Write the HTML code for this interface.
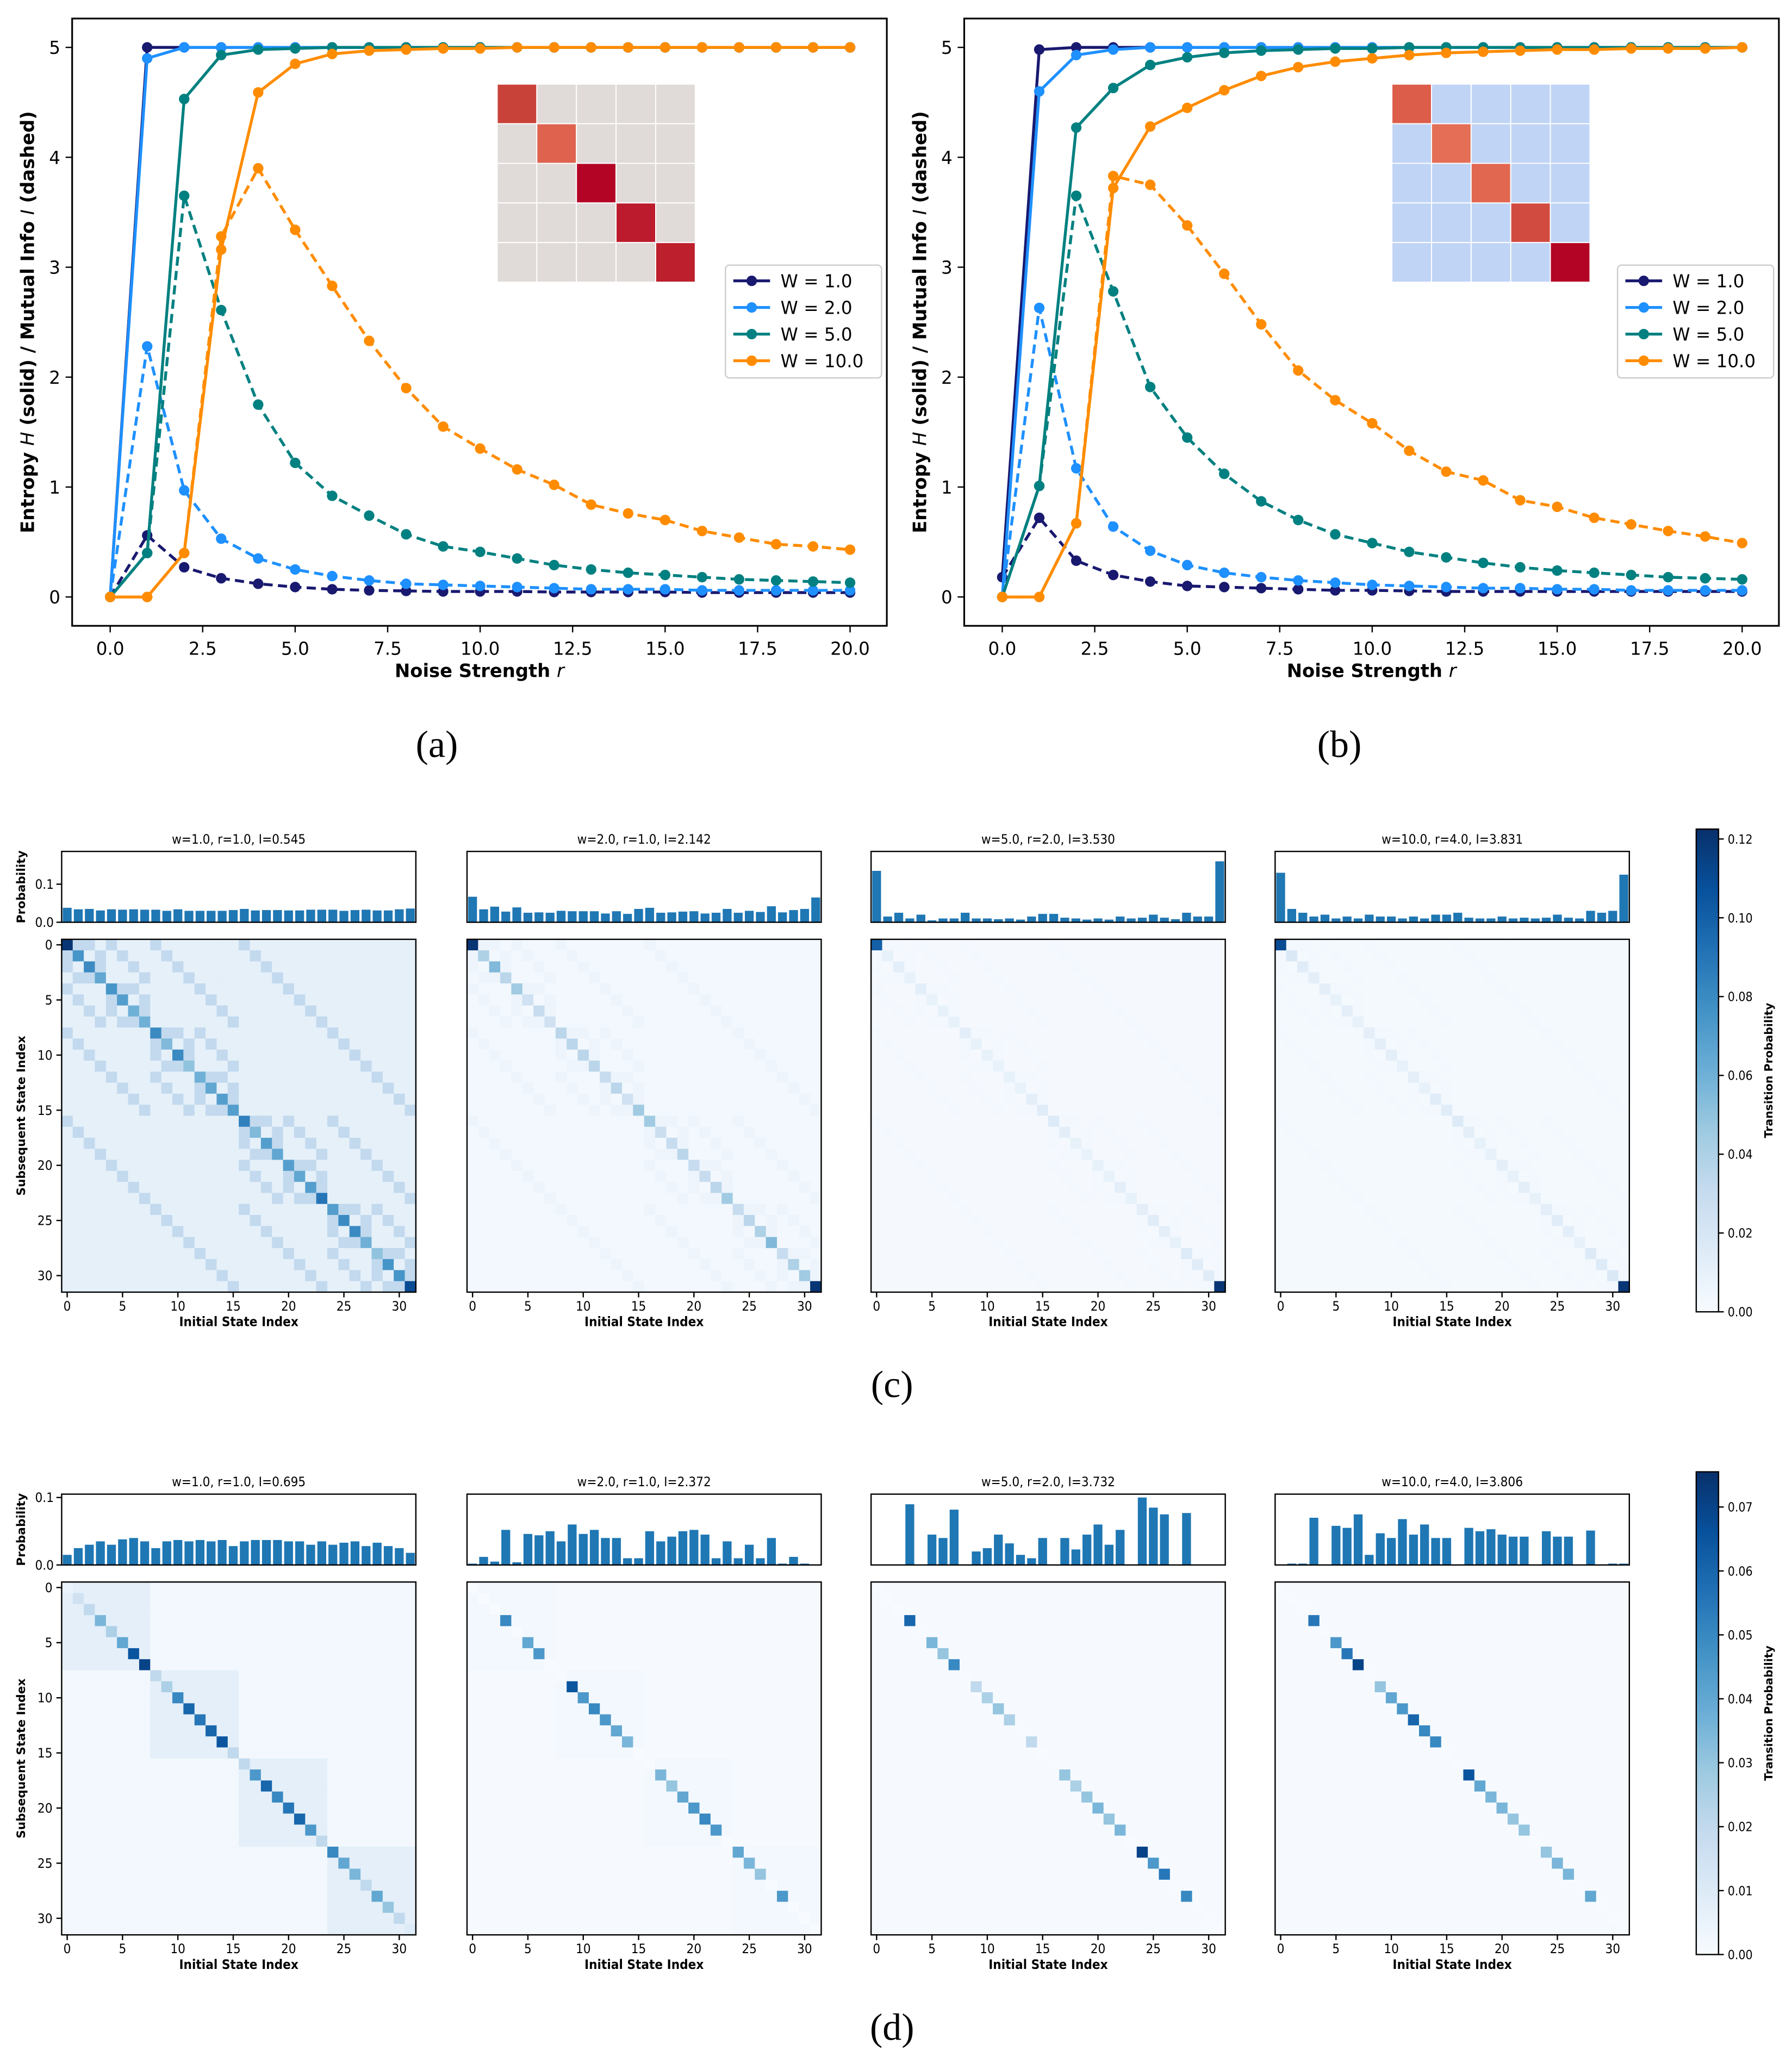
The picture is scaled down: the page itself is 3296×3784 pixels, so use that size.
<!DOCTYPE html>
<html><head><meta charset="utf-8">
<style>
html,body{margin:0;padding:0;background:#fff;}
svg{display:block;}
</style></head>
<body>
<svg id="fig" xmlns="http://www.w3.org/2000/svg" width="3296" height="3784" viewBox="0 0 1366 1568" font-family="DejaVu Sans, Liberation Sans, sans-serif">
<rect width="1366" height="1568" fill="#fff"/>
</svg>
<script>
// ---------- line chart data ----------
const rVals = [0,1,2,3,4,5,6,7,8,9,10,11,12,13,14,15,16,17,18,19,20];
const seriesNames = ["W = 1.0","W = 2.0","W = 5.0","W = 10.0"];
const seriesColors = ["#191970","#1e90ff","#008080","#ff8c00"];
const aH1 = [0,5,5,5,5,5,5,5,5,5,5,5,5,5,5,5,5,5,5,5,5];
const aI1 = [0,0.56,0.27,0.17,0.12,0.09,0.07,0.06,0.055,0.05,0.05,0.05,0.045,0.045,0.045,0.045,0.04,0.04,0.04,0.04,0.04];
const aH2 = [0,4.9,5,5,5,5,5,5,5,5,5,5,5,5,5,5,5,5,5,5,5];
const aI2 = [0,2.28,0.97,0.53,0.35,0.25,0.19,0.15,0.12,0.11,0.1,0.09,0.08,0.07,0.07,0.07,0.06,0.06,0.06,0.06,0.06];
const aH5 = [0,0.4,4.53,4.93,4.98,4.99,5,5,5,5,5,5,5,5,5,5,5,5,5,5,5];
const aI5 = [0,0.4,3.65,2.61,1.75,1.22,0.92,0.74,0.57,0.46,0.41,0.35,0.29,0.25,0.22,0.2,0.18,0.16,0.15,0.14,0.13];
const aH10 = [0,0,0.4,3.16,4.59,4.85,4.94,4.97,4.98,4.99,4.99,5,5,5,5,5,5,5,5,5,5];
const aI10 = [0,0,0.4,3.28,3.9,3.34,2.83,2.33,1.9,1.55,1.35,1.16,1.02,0.84,0.76,0.7,0.6,0.54,0.48,0.46,0.43];
const bH1 = [0.18,4.98,5,5,5,5,5,5,5,5,5,5,5,5,5,5,5,5,5,5,5];
const bI1 = [0.18,0.72,0.33,0.2,0.14,0.1,0.09,0.08,0.07,0.06,0.06,0.055,0.05,0.05,0.05,0.05,0.05,0.05,0.05,0.05,0.05];
const bH2 = [0,4.6,4.93,4.98,5,5,5,5,5,5,5,5,5,5,5,5,5,5,5,5,5];
const bI2 = [0,2.63,1.17,0.64,0.42,0.29,0.22,0.18,0.15,0.13,0.11,0.1,0.09,0.08,0.08,0.07,0.07,0.06,0.06,0.06,0.06];
const bH5 = [0,1.01,4.27,4.63,4.84,4.91,4.95,4.97,4.98,4.99,4.99,5,5,5,5,5,5,5,5,5,5];
const bI5 = [0,1.01,3.65,2.78,1.91,1.45,1.12,0.87,0.7,0.57,0.49,0.41,0.36,0.31,0.27,0.24,0.22,0.2,0.18,0.17,0.16];
const bH10 = [0,0,0.67,3.72,4.28,4.45,4.61,4.74,4.82,4.87,4.9,4.93,4.95,4.96,4.97,4.98,4.98,4.99,4.99,4.99,5];
const bI10 = [0,0,0.67,3.83,3.75,3.38,2.94,2.48,2.06,1.79,1.58,1.33,1.14,1.06,0.88,0.82,0.72,0.66,0.6,0.55,0.49];
const xTicks = [0,2.5,5,7.5,10,12.5,15,17.5,20];
const xTickLabels = ["0.0","2.5","5.0","7.5","10.0","12.5","15.0","17.5","20.0"];
const yTicks = [0,1,2,3,4,5];
const insetADiagColors = ["#c9423a","#de624e","#b40426","#bb1b2c","#bd1f2d"];
const insetAOffColor = "#e0dbd8";
const insetBDiagColors = ["#dc5d4a","#e46e56","#e16751","#d24b40","#b40426"];
const insetBOffColor = "#c0d4f5";

// ---------- heatmap data ----------
const stateIdx = Array.from({length:32},(_,i)=>i);
const stateTicks = [0,5,10,15,20,25,30];
const cTitles = ["w=1.0, r=1.0, I=0.545","w=2.0, r=1.0, I=2.142","w=5.0, r=2.0, I=3.530","w=10.0, r=4.0, I=3.831"];
const cBars1 = [0.038,0.034,0.035,0.031,0.034,0.033,0.034,0.033,0.033,0.03,0.034,0.03,0.03,0.03,0.03,0.032,0.035,0.031,0.032,0.032,0.031,0.031,0.033,0.033,0.033,0.03,0.032,0.033,0.031,0.031,0.034,0.036];
const cBars2 = [0.067,0.034,0.041,0.028,0.039,0.025,0.026,0.025,0.03,0.029,0.029,0.029,0.023,0.029,0.022,0.035,0.038,0.025,0.026,0.028,0.029,0.023,0.025,0.035,0.025,0.03,0.027,0.042,0.026,0.032,0.035,0.065];
const cBars3 = [0.135,0.015,0.025,0.01,0.02,0.005,0.01,0.01,0.025,0.01,0.01,0.008,0.01,0.007,0.015,0.022,0.022,0.012,0.01,0.007,0.01,0.007,0.015,0.01,0.012,0.02,0.012,0.008,0.025,0.015,0.015,0.16];
const cBars4 = [0.13,0.035,0.025,0.015,0.02,0.01,0.015,0.01,0.02,0.015,0.015,0.01,0.015,0.01,0.02,0.02,0.025,0.012,0.01,0.01,0.015,0.01,0.012,0.01,0.012,0.02,0.012,0.01,0.03,0.025,0.03,0.125];
const cDiag1 = [0.12,0.075,0.08,0.065,0.075,0.07,0.06,0.06,0.08,0.055,0.08,0.05,0.06,0.065,0.07,0.07,0.085,0.055,0.07,0.065,0.07,0.065,0.07,0.09,0.07,0.08,0.08,0.06,0.05,0.075,0.075,0.11];
const cDiag2 = [0.12,0.04,0.055,0.035,0.045,0.025,0.03,0.025,0.035,0.035,0.035,0.035,0.03,0.035,0.025,0.045,0.045,0.028,0.03,0.035,0.03,0.03,0.035,0.045,0.03,0.035,0.04,0.055,0.03,0.04,0.045,0.12];
const cDiag3 = [0.1,0.01,0.012,0.01,0.012,0.009,0.01,0.01,0.012,0.01,0.01,0.009,0.01,0.009,0.012,0.014,0.016,0.012,0.01,0.009,0.01,0.009,0.012,0.01,0.012,0.014,0.012,0.01,0.016,0.014,0.014,0.12];
const cDiag4 = [0.11,0.018,0.014,0.012,0.012,0.01,0.012,0.01,0.012,0.012,0.012,0.01,0.012,0.01,0.014,0.014,0.016,0.012,0.01,0.01,0.012,0.01,0.012,0.01,0.012,0.014,0.012,0.01,0.016,0.016,0.018,0.12];
const cOff = [0.011,0.003,0.0015,0.002];
const cBlock = [0.02,0.004,0.0015,0.002];
const dTitles = ["w=1.0, r=1.0, I=0.695","w=2.0, r=1.0, I=2.372","w=5.0, r=2.0, I=3.732","w=10.0, r=4.0, I=3.806"];
const dBars1 = [0.015,0.025,0.03,0.035,0.03,0.038,0.04,0.035,0.025,0.035,0.037,0.035,0.037,0.035,0.037,0.028,0.035,0.037,0.037,0.037,0.035,0.035,0.03,0.035,0.03,0.033,0.035,0.028,0.033,0.028,0.025,0.018];
const dBars2 = [0.002,0.012,0.005,0.052,0.004,0.046,0.044,0.05,0.035,0.06,0.046,0.052,0.04,0.04,0.01,0.01,0.05,0.035,0.042,0.05,0.052,0.045,0.01,0.035,0.01,0.03,0.01,0.04,0.002,0.012,0.002,0];
const dBars3 = [0,0,0,0.09,0,0.045,0.04,0.082,0,0.02,0.025,0.045,0.032,0.015,0.01,0.04,0,0.04,0.023,0.045,0.06,0.03,0.052,0,0.1,0.085,0.075,0,0.077,0,0,0];
const dBars4 = [0,0.002,0.002,0.07,0,0.058,0.055,0.075,0.015,0.047,0.04,0.068,0.045,0.06,0.04,0.04,0,0.055,0.05,0.053,0.045,0.042,0.042,0,0.05,0.042,0.042,0,0.051,0,0.002,0.002];
const dDiag1 = [0.005,0.015,0.02,0.035,0.025,0.04,0.065,0.07,0.02,0.025,0.05,0.06,0.055,0.06,0.065,0.02,0.02,0.045,0.06,0.05,0.055,0.06,0.045,0.02,0.05,0.04,0.035,0.02,0.04,0.03,0.02,0.01];
const dDiag2 = [0,0,0,0.05,0,0.04,0.045,0.0,0,0.065,0.045,0.05,0.045,0.04,0.035,0,0,0.035,0.03,0.04,0.045,0.05,0.045,0,0.04,0.035,0.03,0,0.045,0,0,0];
const dDiag3 = [0,0,0,0.06,0,0.035,0.03,0.05,0,0.02,0.025,0.03,0.025,0,0.02,0,0,0.03,0.025,0.03,0.035,0.03,0.035,0,0.07,0.045,0.055,0,0.05,0,0,0];
const dDiag4 = [0,0,0,0.055,0,0.045,0.055,0.07,0,0.03,0.04,0.045,0.06,0.05,0.05,0,0,0.065,0.04,0.035,0.035,0.03,0.03,0,0.03,0.035,0.035,0,0.04,0,0,0];
const dOff = [0.002,0.0005,0.0003,0.0003];
const dBlock = [0.007,0.0015,0.0005,0.0005];
const cBarTicks = [0,0.1];
const dBarTicks = [0,0.1];
const cCbarTicks = [0,0.02,0.04,0.06,0.08,0.1,0.12];
const dCbarTicks = [0,0.01,0.02,0.03,0.04,0.05,0.06,0.07];

const svg = document.getElementById('fig');
const NS = "http://www.w3.org/2000/svg";
function mk(tag, attrs, parent, text){
  const e = document.createElementNS(NS, tag);
  for (const k in attrs) e.setAttribute(k, attrs[k]);
  if (text !== undefined) e.textContent = text;
  (parent||svg).appendChild(e);
  return e;
}
function lin(d0,d1,p0,p1){ return v => p0 + (v-d0)/(d1-d0)*(p1-p0); }

function linePanel(px, data, insetX, insetDiag, insetOff, name){
  const g = mk('g', {});
  
  
  const L = px, R = px+621, T = 14, B = 477;
  const xs = lin(0,20,L+29,R-28), ys = lin(0,5,455,36);
  const ig = mk('g', {}, g);
  
  
  for (let i=0;i<5;i++) for (let j=0;j<5;j++){
    const c = mk('rect', {x: insetX+j*30.2, y: 64+i*30.2, width: 30.2, height: 30.2, fill: i===j?insetDiag[i]:insetOff, stroke:'#fff','stroke-width':0.8}, ig);
    
    
  }
  const Hs = data.H, Is = data.I;
  for (let s=0;s<4;s++){
    for (const [arr,dash] of [[Is[s],'7,4'],[Hs[s],null]]){
      const pts = rVals.map((r,k)=>xs(r).toFixed(2)+','+ys(arr[k]).toFixed(2)).join(' ');
      const pl = mk('polyline', {points: pts, fill:'none', stroke: seriesColors[s], 'stroke-width': 2.2}, g);
      if (dash) pl.setAttribute('stroke-dasharray', dash);
      
      
      rVals.forEach((r,k)=>{
        const c = mk('circle', {cx: xs(r), cy: ys(arr[k]), r: 4, fill: seriesColors[s]}, g);
        
        
      });
    }
  }
  const fr = mk('rect', {x:L, y:T, width:R-L, height:B-T, fill:'none', stroke:'#000','stroke-width':1.3}, g);
  
  
  xTicks.forEach((t,k)=>{
    mk('line', {x1: xs(t), x2: xs(t), y1: B, y2: B+5, stroke:'#000'}, g);
    const tl = mk('text', {x: xs(t), y: B+22, 'text-anchor':'middle','font-size':13.5}, g, xTickLabels[k]);
    
    
  });
  yTicks.forEach(t=>{
    mk('line', {x1: L-5, x2: L, y1: ys(t), y2: ys(t), stroke:'#000'}, g);
    const tl = mk('text', {x: L-9, y: ys(t)+5, 'text-anchor':'end','font-size':13.5}, g, String(t));
    
    
  });
  const xl = mk('text', {x:(L+R)/2, y: B+39, 'text-anchor':'middle','font-size':14,'font-weight':'bold'}, g);
  xl.innerHTML = 'Noise Strength <tspan font-style="italic" font-weight="normal">r</tspan>';
  
  
  const yl = mk('text', {x:0, y:0, transform:`translate(${L-29},${(T+B)/2}) rotate(-90)`, 'text-anchor':'middle','font-size':14,'font-weight':'bold'}, g);
  yl.innerHTML = 'Entropy <tspan font-style="italic" font-weight="normal">H</tspan> (solid) / Mutual Info <tspan font-style="italic" font-weight="normal">I</tspan> (dashed)';
  
  
  const lg = mk('g', {}, g);
  
  
  mk('rect', {x: R-123, y: 202, width: 119, height: 86, rx:3, fill:'#fff', 'fill-opacity':0.85, stroke:'#ccc'}, lg);
  seriesNames.forEach((n,s)=>{
    const y = 214 + s*20.3;
    const e = mk('g', {}, lg);
    
    
    mk('line', {x1: R-117, x2: R-89, y1: y, y2: y, stroke: seriesColors[s], 'stroke-width':2.2}, e);
    mk('circle', {cx: R-103, cy: y, r:4, fill: seriesColors[s]}, e);
    mk('text', {x: R-81, y: y+5, 'font-size':13.5}, e, n);
  });
}
linePanel(55, {H:[aH1,aH2,aH5,aH10], I:[aI1,aI2,aI5,aI10]}, 379, insetADiagColors, insetAOffColor, 'panel-a');
linePanel(735, {H:[bH1,bH2,bH5,bH10], I:[bI1,bI2,bI5,bI10]}, 1061, insetBDiagColors, insetBOffColor, 'panel-b');

[['(a)',333,577],['(b)',1021,577],['(c)',680,1065],['(d)',680,1555]].forEach(([t,x,y])=>{
  const c = mk('text', {x, y, 'text-anchor':'middle','font-size':29, style:'font-family:"Liberation Serif",serif'}, svg, t);
  
  
});

const blues = ["#f7fbff","#deebf7","#c6dbef","#9ecae1","#6baed6","#4292c6","#2171b5","#08519c","#08306b"];
function hx(h){return [1,3,5].map(i=>parseInt(h.substr(i,2),16));}
function cmap(t){
  t = Math.max(0,Math.min(1,t));
  const p = t*8, i = Math.min(7,Math.floor(p)), f = p-i;
  const a = hx(blues[i]), b = hx(blues[i+1]);
  return 'rgb('+a.map((v,k)=>Math.round(v+(b[k]-v)*f)).join(',')+')';
}

function heatRow(rowTop, titles, bars, diags, off, block, vmax, barTop, barTicks, cbTicks, rowName, blocky){
  const xsL = [47,356,664,972], W = 270;
  const barT = rowTop+9, barB = rowTop+63, hmT = rowTop+76, hmB = rowTop+345;
  for (let p=0;p<4;p++){
    const L = xsL[p];
    const g = mk('g', {});
    
    
    const tt = mk('text', {x: L+W/2, y: rowTop+3, 'text-anchor':'middle','font-size':10,'font-stretch':'condensed'}, g, titles[p]);
    
    
    const bx = lin(-0.5,31.5,L,L+W), by = lin(0,barTop,barB,barT);
    bars[p].forEach((v,i)=>{
      const b = mk('rect', {x: bx(i-0.4), y: by(v), width: bx(0.8)-bx(0), height: barB-by(v), fill:'#1f77b4'}, g);
      
      
    });
    mk('rect', {x:L, y:barT, width:W, height:barB-barT, fill:'none', stroke:'#000','stroke-width':1}, g);
    if (p===0){
      barTicks.forEach(t=>{
        mk('line', {x1:L-4,x2:L,y1:by(t),y2:by(t),stroke:'#000'}, g);
        mk('text', {x:L-6, y:by(t)+3.5, 'text-anchor':'end','font-size':10,'font-stretch':'condensed'}, g, t.toFixed(1));
      });
      const pl = mk('text', {transform:`translate(${L-28},${(barT+barB)/2}) rotate(-90)`, 'text-anchor':'middle','font-size':9,'font-weight':'bold'}, g, 'Probability');
      
      
    }
    const hx_ = lin(-0.5,31.5,L,L+W), hy_ = lin(-0.5,31.5,hmT,hmB), cw = W/32, ch = (hmB-hmT)/32;
    stateIdx.forEach(r=>{
      stateIdx.forEach(c=>{
        let v;
        if (r===c) v = diags[p][r];
        else if (Math.floor(r/8)===Math.floor(c/8) && blocky) v = block[p];
        else if (!blocky && ((r^c)===1 || (r^c)===2 || (r^c)===4 || (r^c)===8 || (r^c)===16)) v = block[p]*1.6;
        else v = off[p];
        const cell = mk('rect', {x: hx_(c-0.5), y: hy_(r-0.5), width: cw+0.3, height: ch+0.3, fill: cmap(v/vmax)}, g);
        
        
      });
    });
    mk('rect', {x:L, y:hmT, width:W, height:hmB-hmT, fill:'none', stroke:'#000','stroke-width':1}, g);
    stateTicks.forEach(t=>{
      mk('line', {x1:hx_(t),x2:hx_(t),y1:hmB,y2:hmB+4,stroke:'#000'}, g);
      mk('text', {x:hx_(t), y:hmB+14, 'text-anchor':'middle','font-size':10,'font-stretch':'condensed'}, g, String(t));
      if (p===0){
        mk('line', {x1:L-4,x2:L,y1:hy_(t),y2:hy_(t),stroke:'#000'}, g);
        mk('text', {x:L-7, y:hy_(t)+3.5, 'text-anchor':'end','font-size':10,'font-stretch':'condensed'}, g, String(t));
      }
    });
    const xl = mk('text', {x:L+W/2, y:hmB+26, 'text-anchor':'middle','font-size':10,'font-weight':'bold','font-stretch':'condensed'}, g, 'Initial State Index');
    
    
    if (p===0){
      const yl = mk('text', {transform:`translate(${L-28},${(hmT+hmB)/2}) rotate(-90)`, 'text-anchor':'middle','font-size':9,'font-weight':'bold'}, g, 'Subsequent State Index');
      
      
    }
  }
  const cg = mk('g', {});
  
  
  const cT = rowTop-8, cB = rowTop+360, cL = 1293, cW = 17;
  const gid = 'grad-'+rowName;
  const defs = mk('defs', {}, cg);
  const lg = mk('linearGradient', {id:gid, x1:0, y1:1, x2:0, y2:0}, defs);
  blues.forEach((c,i)=>mk('stop', {offset: (i/8*100)+'%', 'stop-color': c}, lg));
  mk('rect', {x:cL, y:cT, width:cW, height:cB-cT, fill:`url(#${gid})`, stroke:'#000','stroke-width':1}, cg);
  const cy = lin(0,vmax,cB,cT);
  cbTicks.forEach(t=>{
    mk('line', {x1:cL+cW,x2:cL+cW+4,y1:cy(t),y2:cy(t),stroke:'#000'}, cg);
    mk('text', {x:cL+cW+7, y:cy(t)+3.5, 'font-size':9.5,'font-stretch':'condensed'}, cg, t.toFixed(2));
  });
  const ct = mk('text', {transform:`translate(${cL+cW+41},${(cT+cB)/2}) rotate(-90)`, 'text-anchor':'middle','font-size':8.5,'font-weight':'bold'}, cg, 'Transition Probability');
  
  
}
heatRow(640, cTitles, [cBars1,cBars2,cBars3,cBars4], [cDiag1,cDiag2,cDiag3,cDiag4], cOff, cBlock, 0.1225, 0.186, cBarTicks, cCbarTicks, 'panel-c', false);
heatRow(1130, dTitles, [dBars1,dBars2,dBars3,dBars4], [dDiag1,dDiag2,dDiag3,dDiag4], dOff, dBlock, 0.0755, 0.105, dBarTicks, dCbarTicks, 'panel-d', true);
</script>
</body></html>
